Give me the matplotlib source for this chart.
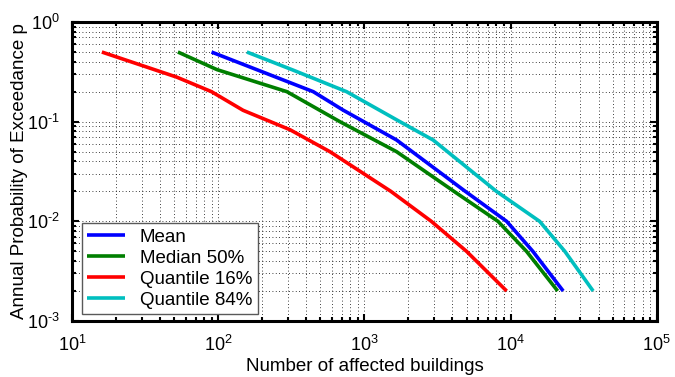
import matplotlib
matplotlib.use('Agg')
import matplotlib.pyplot as plt
import numpy as np
from matplotlib import ticker

FIG_SIZE = (6.75, 3.77)
DPI = 100

# values (number of buildings, annual exceedance probability)
mean_n = [90, 447, 713, 1660, 4900, 9400, 14200, 22900]
mean_p = [0.5, 0.2, 0.131, 0.0655, 0.02, 0.01, 0.005, 0.002]

median_n = [53, 98, 295, 680, 1660, 4100, 8200, 12850, 21000]
median_p = [0.5, 0.333, 0.2, 0.1, 0.05, 0.02, 0.01, 0.005, 0.002]

q16_n = [16, 52, 90, 148, 310, 581, 1517, 2870, 5000, 9400]
q16_p = [0.5, 0.28, 0.2, 0.13, 0.083, 0.05, 0.02, 0.01, 0.005, 0.002]

q84_n = [157, 324, 755, 1750, 2950, 8000, 15800, 23500, 36700]
q84_p = [0.5, 0.33, 0.2, 0.1, 0.0655, 0.02, 0.01, 0.005, 0.002]

series = [
    ('Mean', mean_n, mean_p, '#0000ff'),
    ('Median 50%', median_n, median_p, '#007f00'),
    ('Quantile 16%', q16_n, q16_p, '#ff0000'),
    ('Quantile 84%', q84_n, q84_p, '#00bfbf'),
]

plt.rcParams['font.family'] = ['Liberation Sans', 'DejaVu Sans']
plt.rcParams['mathtext.fontset'] = 'custom'
plt.rcParams['mathtext.rm'] = 'Liberation Sans'
plt.rcParams['mathtext.default'] = 'regular'


def pow10(v, pos):
    # matlab-like 10^n label, short hyphen instead of a wide minus
    e = int(round(np.log10(v)))
    return r'$10^{\text{%d}}$' % e


fig = plt.figure(figsize=FIG_SIZE, dpi=DPI)
ax = fig.add_axes([0.1067, 0.1485, 0.8663, 0.7931])

for label, n, p, color in series:
    ax.plot(n, p, color=color, linewidth=2.6, label=label, solid_capstyle='butt')

ax.set_xscale('log')
ax.set_yscale('log')
ax.set_xlim(10, 1e5)
ax.set_ylim(1e-3, 1)

ax.xaxis.set_major_formatter(ticker.FuncFormatter(pow10))
ax.yaxis.set_major_formatter(ticker.FuncFormatter(pow10))
ax.xaxis.set_minor_locator(ticker.LogLocator(base=10, subs=range(2, 10), numticks=20))
ax.yaxis.set_minor_locator(ticker.LogLocator(base=10, subs=range(2, 10), numticks=20))
ax.xaxis.set_minor_formatter(ticker.NullFormatter())
ax.yaxis.set_minor_formatter(ticker.NullFormatter())

# matlab style dotted grid on every decade and sub-decade
ax.grid(True, which='both', linestyle=(0, (1, 3)), color='k', linewidth=0.6)
ax.set_axisbelow(True)

ax.tick_params(which='both', direction='in', top=True, right=True, width=1.5, labelsize=13)
ax.tick_params(which='major', length=5)
ax.tick_params(which='minor', length=3)
ax.tick_params(axis='x', pad=10)
ax.tick_params(axis='y', pad=9)
for s in ax.spines.values():
    s.set_linewidth(2.2)

ax.set_xlabel('Number of affected buildings', fontsize=13.5)
ax.set_ylabel('Annual Probability of Exceedance p', fontsize=13.5)
ax.xaxis.set_label_coords(0.5, -0.125)
ax.yaxis.set_label_coords(-0.076, 0.5)

leg = ax.legend(loc='lower left', bbox_to_anchor=(0.0166, 0.023), borderaxespad=0,
                fancybox=False, framealpha=1, edgecolor='0.35', fontsize=13.5,
                handlelength=2.0, labelspacing=0.2, borderpad=0.3)
leg.get_frame().set_linewidth(1.0)

fig.savefig('out.png', dpi=DPI)
